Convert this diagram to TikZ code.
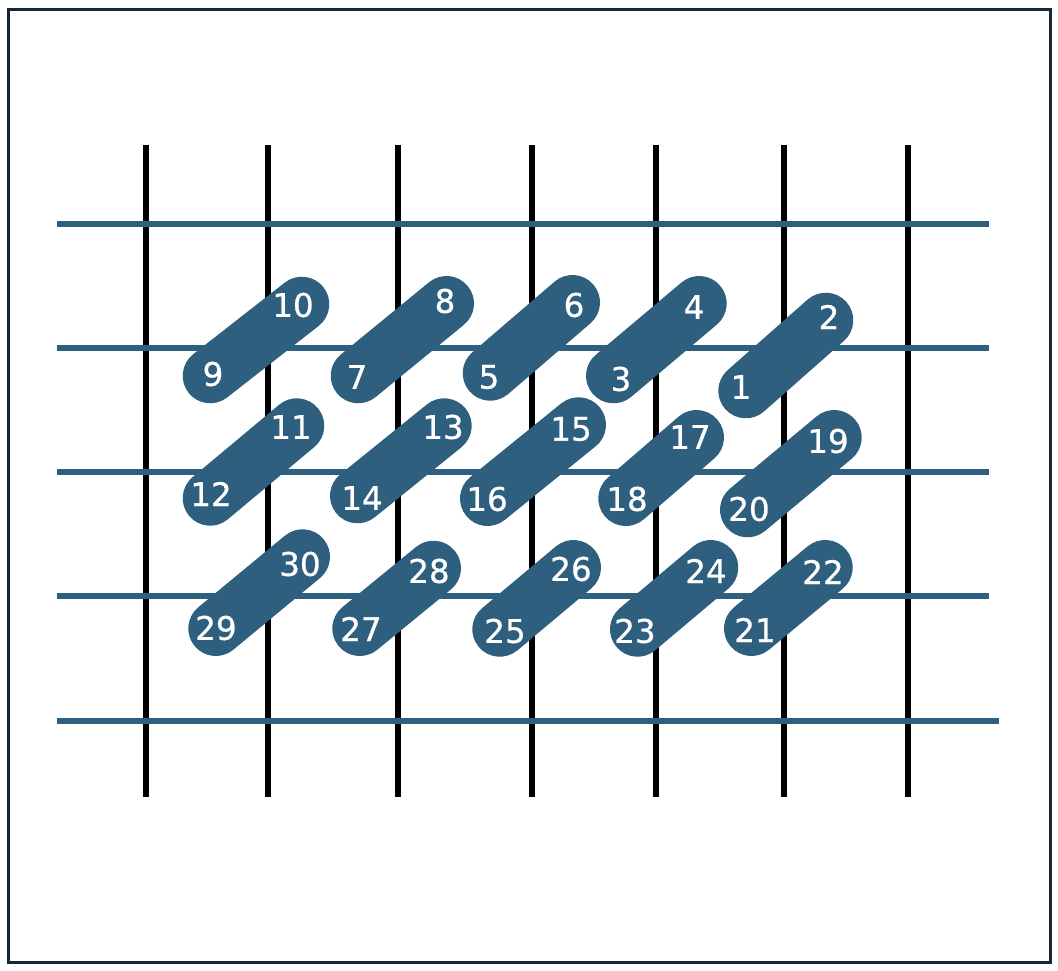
\documentclass[tikz,border=0pt]{standalone}
\usepackage{fontspec}
\setmainfont{DejaVu Sans}
\newfontfamily\numfont{DejaVu Sans}[FakeBold=0.8]
\definecolor{frame}{RGB}{20,40,56}
\definecolor{steel}{RGB}{47,95,126}
\begin{document}
\begin{tikzpicture}[x=1pt,y=-1pt,
  vline/.style={line width=6pt,black},
  hline/.style={line width=6.5pt,steel},
  pill/.style={line width=55pt,steel,line cap=round},
  num/.style={text=white,inner sep=0pt,font=\numfont\fontsize{32.5}{38}\selectfont}]
\useasboundingbox (0,0) rectangle (1058,970);
\draw[frame,line width=3pt] (8.5,9.5) rectangle (1050,962.5);
% vertical lines
\foreach \x [count=\i] in {146,268,398,532,656,784,908}{
  \coordinate (vt\i) at (\x,145);
  \coordinate (vb\i) at (\x,797);
  \draw[vline] (vt\i) -- (vb\i);
}
% horizontal lines
\foreach \y/\r [count=\i] in {224/989,348/989,472/989,596/989,721/999}{
  \coordinate (hl\i) at (57,\y);
  \coordinate (hr\i) at (\r,\y);
  \draw[hline] (hl\i) -- (hr\i);
}
% pills
\foreach \a/\ax/\ay/\b/\bx/\by in {
  9/210.2/375.8/10/301.8/304.2,
  7/358.2/375.8/8/446.5/303.5,
  5/490.2/373.2/6/572.5/302.5,
  3/613.5/375.8/4/699.2/303.5,
  1/745.8/390.8/2/825.8/320.2,
  12/210.2/498.2/11/296.8/425.8,
  14/357.5/495.8/13/444.2/425.8,
  16/487.5/498.5/15/578.5/424.8,
  18/625.8/498.5/17/696.5/437.5,
  20/747.5/509.8/19/834.2/437.5,
  29/215.8/628.5/30/302.5/556.8,
  27/359.8/628.5/28/433.5/568.2,
  25/499.8/629.2/26/573.5/567.5,
  23/637.5/629.2/24/710.8/567.5,
  21/751.5/628.5/22/825.2/567.5}{
  \coordinate (c\a) at (\ax,\ay);
  \coordinate (c\b) at (\bx,\by);
  \draw[pill] (c\a) -- (c\b);
}
% labels
\foreach \n/\x/\y in {
  10/293/305, 8/445/301, 6/574/305, 4/694/307, 2/829/317,
  9/213/374, 7/357/377, 5/489/377, 3/621/379, 1/741/387,
  11/291/427, 13/443/427, 15/571/429, 17/690/437, 19/828/441,
  12/211/494, 14/362/498, 16/487/499, 18/627/499, 20/749/509,
  30/300/564, 28/429/571, 26/571/569, 24/706/571, 22/823/572,
  29/216/628, 27/361/629, 25/505/631, 23/635/631, 21/755/630}{
  \node[num] (n\n) at (\x,\y) {\n};
}
\end{tikzpicture}
\end{document}
